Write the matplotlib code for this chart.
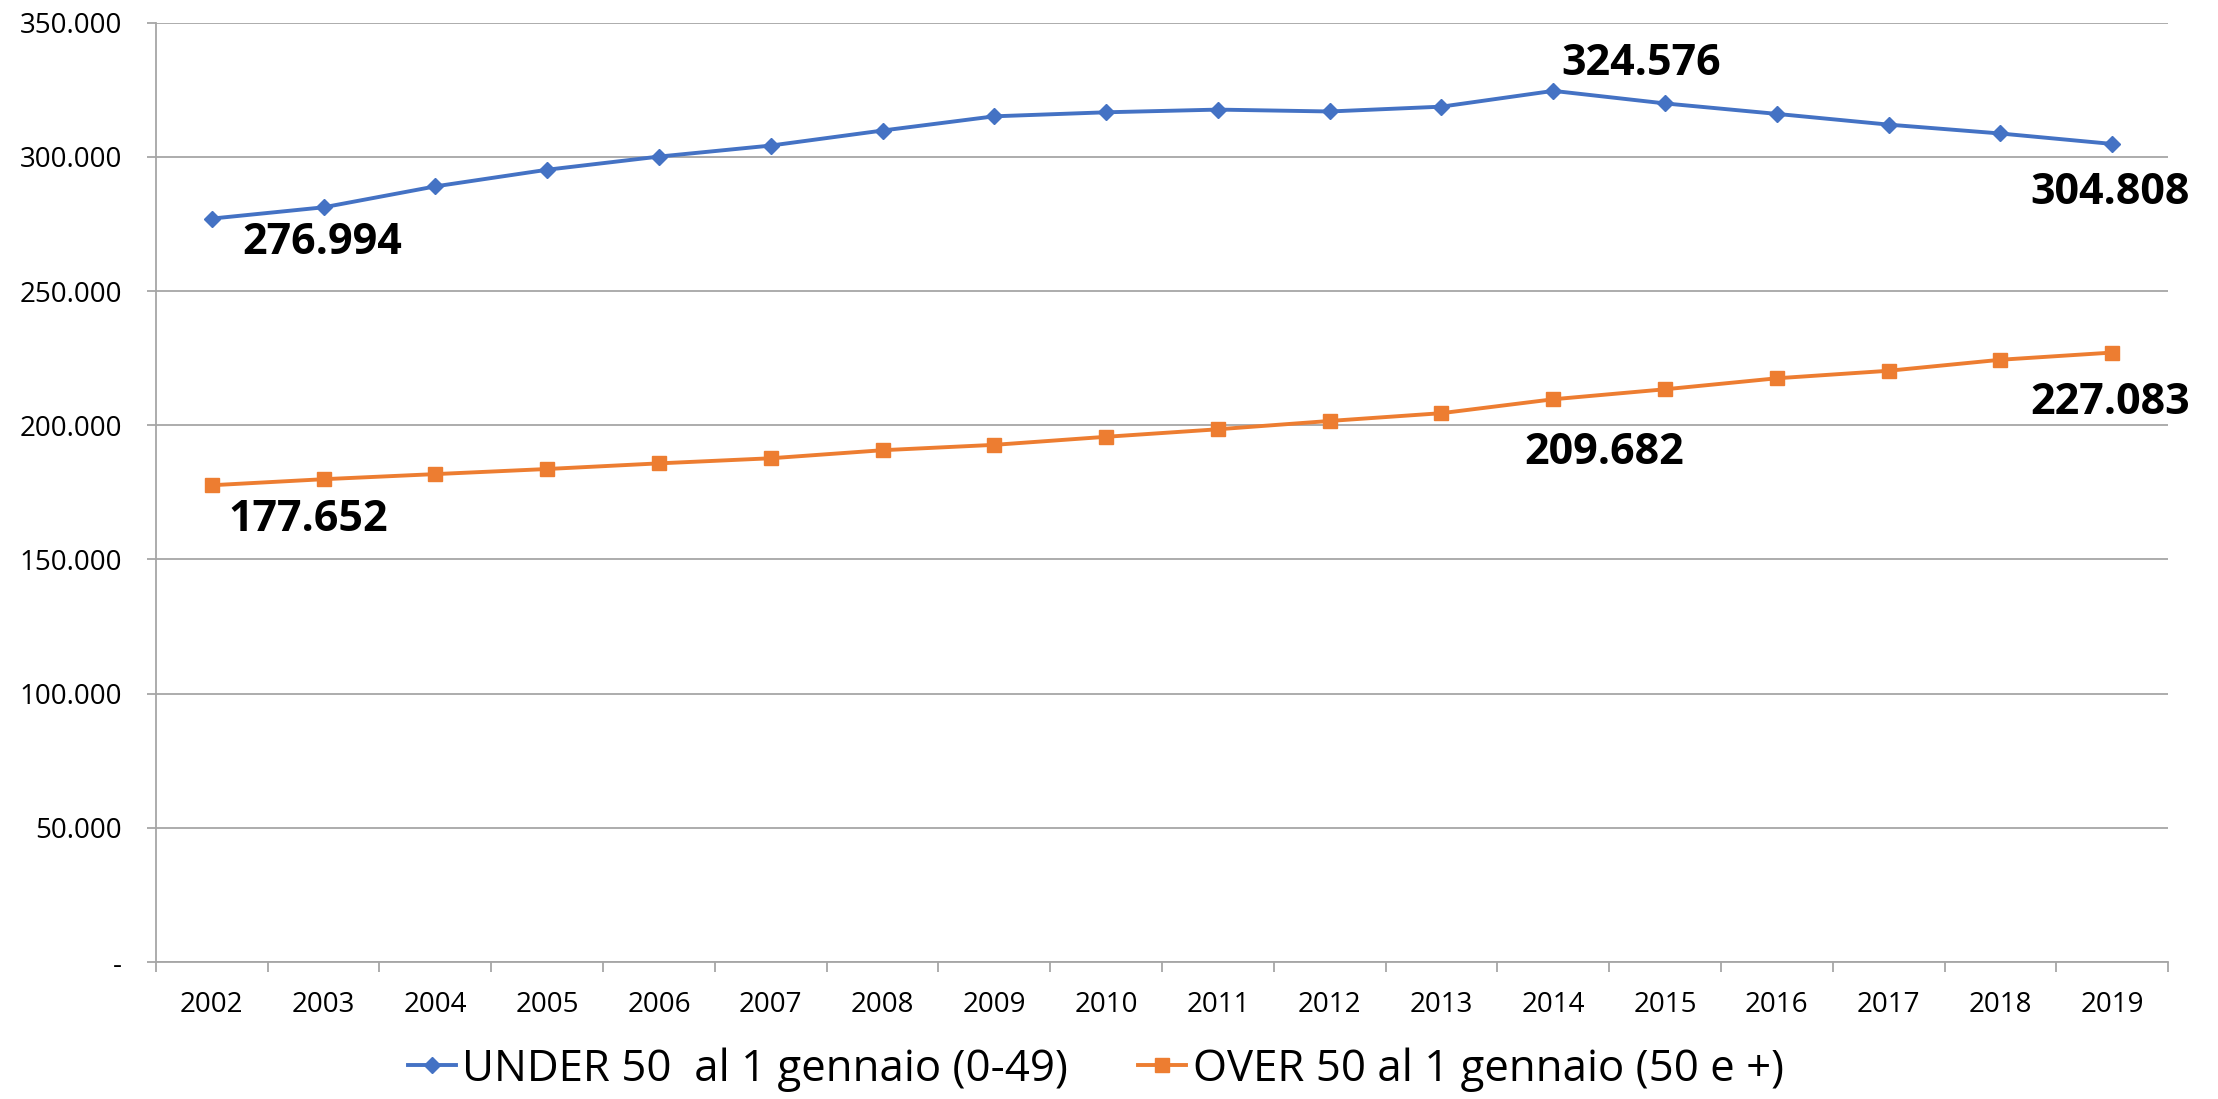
import numpy as np
import matplotlib.pyplot as plt
from matplotlib.ticker import FuncFormatter
from matplotlib.lines import Line2D

# data
years = [2002, 2003, 2004, 2005, 2006, 2007, 2008, 2009, 2010,
         2011, 2012, 2013, 2014, 2015, 2016, 2017, 2018, 2019]
under50 = [276994, 281200, 289000, 295200, 300100, 304200, 309800, 315100, 316600,
           317600, 316900, 318700, 324576, 319900, 316000, 312000, 308700, 304808]
over50 = [177652, 179900, 181800, 183700, 185800, 187700, 190700, 192700, 195700,
          198500, 201600, 204500, 209682, 213400, 217500, 220300, 224400, 227083]
under_label = "UNDER 50  al 1 gennaio (0-49)"
over_label = "OVER 50 al 1 gennaio (50 e +)"
y_ticks = [0, 50000, 100000, 150000, 200000, 250000, 300000, 350000]

# which points carry a value label, and pixel offset of the label
under_notes = {0: (110, -24), 12: (88, 27), 17: (-2, -49)}
over_notes = {0: (96, -34), 12: (51, -53), 17: (-2, -50)}

BLUE = "#4472C4"
ORANGE = "#ED7D31"
GRID = "#A6A6A6"

plt.rcParams['font.family'] = ['Open Sans', 'DejaVu Sans']


def fmt_thousands(v, pos=None):
    if v == 0:
        return "-"
    return f"{int(round(v)):,}".replace(",", ".")


fig = plt.figure(figsize=(22.18, 10.99), dpi=100)
ax = fig.add_axes([0.0703, 0.1246, 0.9072, 0.8548])

x = np.arange(len(years))
ax.plot(x, under50, color=BLUE, lw=2.8, marker="D", ms=8.5, zorder=3,
        label=under_label)
ax.plot(x, over50, color=ORANGE, lw=2.8, marker="s", ms=9.5, zorder=3,
        label=over_label)

for series, notes in [(under50, under_notes), (over50, over_notes)]:
    for i, (dx, dy) in notes.items():
        ax.annotate(fmt_thousands(series[i]), (x[i], series[i]),
                    xytext=(dx, dy), textcoords="offset pixels",
                    ha="center", va="center", fontsize=31, fontweight="bold",
                    color="black", zorder=4)

ax.set_xlim(-0.5, len(years) - 0.5)
ax.set_ylim(0, 350000)

# category axis: tick marks on the boundaries, labels in the middle
ax.set_xticks(np.arange(-0.5, len(years), 1))
ax.set_xticklabels([])
ax.set_xticks(x, minor=True)
ax.set_xticklabels([str(y) for y in years], minor=True)
ax.tick_params(axis="x", which="major", length=7.2, width=1.3, color=GRID,
               direction="out")
ax.tick_params(axis="x", which="minor", length=0, pad=21, labelsize=20)

ax.set_yticks(y_ticks)
ax.yaxis.set_major_formatter(FuncFormatter(fmt_thousands))
ax.tick_params(axis="y", length=6.5, width=1.3, color=GRID, pad=18,
               labelsize=20)

ax.grid(axis="y", color=GRID, lw=1.3)
ax.set_axisbelow(True)
for side in ["top", "right"]:
    ax.spines[side].set_visible(False)
for side in ["left", "bottom"]:
    ax.spines[side].set_color(GRID)
    ax.spines[side].set_linewidth(1.3)

handles = [
    Line2D([], [], color=BLUE, lw=2.8, marker="D", ms=8.5),
    Line2D([], [], color=ORANGE, lw=2.8, marker="s", ms=9.5),
]
fig.legend(handles, [under_label, over_label], loc="center",
           bbox_to_anchor=(0.494, 0.027), ncol=2, frameon=False,
           fontsize=31.5, handlelength=1.1, handletextpad=0.15,
           columnspacing=1.6, borderpad=0)

fig.savefig("out.png", dpi=100, facecolor="white")
